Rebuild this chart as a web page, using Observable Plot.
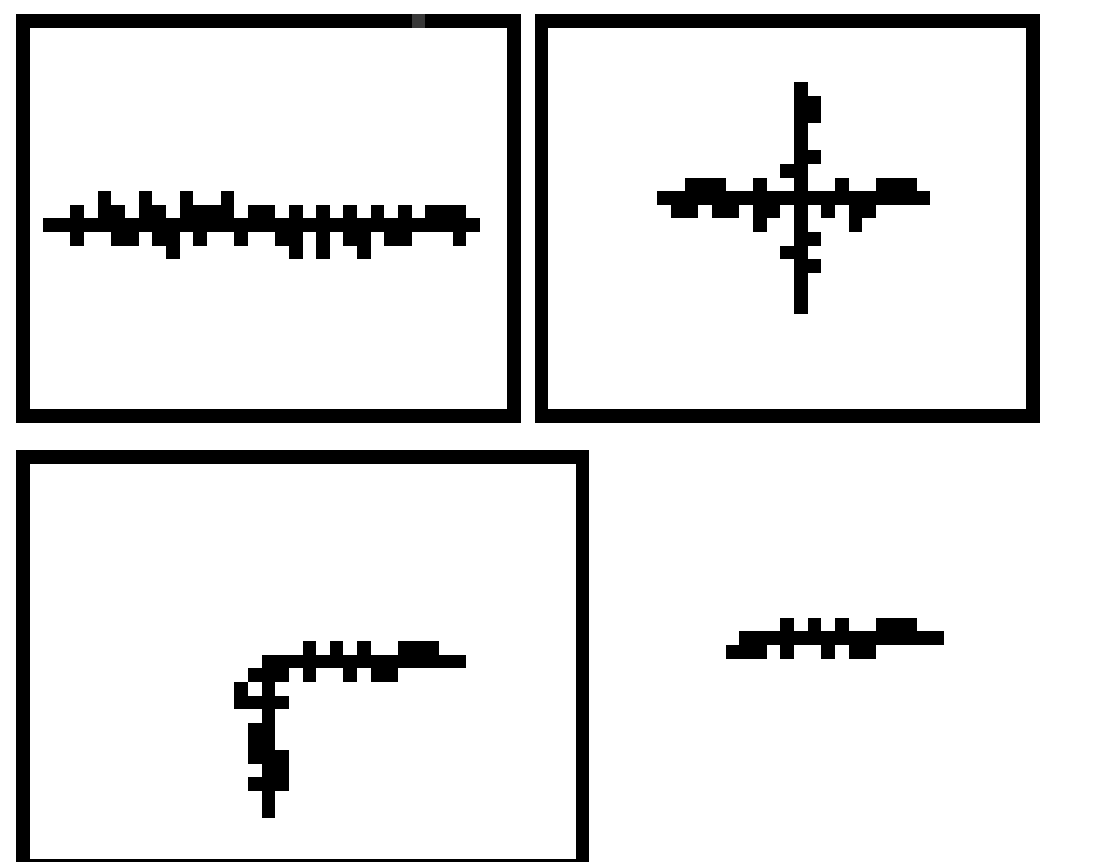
<!DOCTYPE html>
<html><head><meta charset="utf-8">
<script src="https://cdn.jsdelivr.net/npm/d3@7"></script>
<script src="https://cdn.jsdelivr.net/npm/@observablehq/plot@0.6"></script>
<style>html,body{margin:0;padding:0;background:#fff;overflow:hidden}#chart svg{display:block}</style>
</head><body><div id="chart"></div>
<script>
// Grid of square blocks (column, row indices)
const gridCols = 81, gridRows = 63;
// Panel frames: [colStart, colEnd, rowStart, rowEnd] (inclusive)
const frames = [[1, 37, 1, 30], [39, 75, 1, 30], [1, 42, 33, 63]];
// Gray block on the first frame: [col, row]
const grayBlocks = [[30, 1]];
// Runs of black blocks: [row, colStart, colEnd]
const panelA = [
  [14,7,7],[14,10,10],[14,13,13],[14,16,16],
  [15,5,5],[15,7,8],[15,10,11],[15,13,16],[15,18,19],[15,21,21],[15,23,23],[15,25,25],[15,27,27],[15,29,29],[15,31,33],
  [16,3,34],
  [17,5,5],[17,8,9],[17,11,12],[17,14,14],[17,17,17],[17,20,21],[17,23,23],[17,25,26],[17,28,29],[17,33,33],
  [18,12,12],[18,21,21],[18,23,23],[18,26,26]
];
const panelB = [
  [6,58,58],[7,58,59],[8,58,59],[9,58,58],[10,58,58],[11,58,59],[12,57,58],
  [13,50,52],[13,55,55],[13,58,58],[13,61,61],[13,64,66],
  [14,48,67],
  [15,49,50],[15,52,53],[15,55,56],[15,58,58],[15,60,60],[15,62,63],
  [16,55,55],[16,58,58],[16,62,62],
  [17,58,59],[18,57,58],[19,58,59],[20,58,58],[21,58,58],[22,58,58]
];
const panelC = [
  [47,22,22],[47,24,24],[47,26,26],[47,29,31],
  [48,19,33],
  [49,18,20],[49,22,22],[49,25,25],[49,27,28],
  [50,17,17],[50,19,19],
  [51,17,20],
  [52,19,19],
  [53,18,19],[54,18,19],
  [55,18,20],[56,19,20],[57,18,20],
  [58,19,19],[59,19,19]
];
const panelD = [
  [45.3,57,57],[45.3,59,59],[45.3,61,61],[45.3,64,66],
  [46.3,54,68],
  [47.3,53,55],[47.3,57,57],[47.3,60,60],[47.3,62,63]
];

// Build rectangles (in grid units)
const blocks = [];
for (const [c0, c1, r0, r1] of frames) {
  blocks.push({x1: c0, x2: c1 + 1, y1: r0, y2: r0 + 1});
  blocks.push({x1: c0, x2: c1 + 1, y1: r1, y2: r1 + 1});
  blocks.push({x1: c0, x2: c0 + 1, y1: r0, y2: r1 + 1});
  blocks.push({x1: c1, x2: c1 + 1, y1: r0, y2: r1 + 1});
}
for (const runs of [panelA, panelB, panelC, panelD]) {
  for (const [r, c0, c1] of runs) blocks.push({x1: c0, x2: c1 + 1, y1: r, y2: r + 1});
}
const grays = grayBlocks.map(([c, r]) => ({x1: c, x2: c + 1, y1: r, y2: r + 1}));

const W = 1106, H = 862;
const cw = 13.65, ch = 13.63, ox = 2.2, oy = 0.4;
const chart = Plot.plot({
  width: W, height: H,
  margin: 0,
  style: {background: "#fff"},
  x: {domain: [-ox / cw, (W - ox) / cw], range: [0, W], axis: null},
  y: {domain: [-oy / ch, (H - oy) / ch], range: [0, H], axis: null},
  marks: [
    Plot.rect(blocks, {x1: "x1", x2: "x2", y1: "y1", y2: "y2", fill: "#000", shapeRendering: "crispEdges"}),
    Plot.rect(grays, {x1: "x1", x2: "x2", y1: "y1", y2: "y2", fill: "#383838", shapeRendering: "crispEdges"})
  ]
});
document.getElementById("chart").appendChild(chart);
</script>
</body></html>
